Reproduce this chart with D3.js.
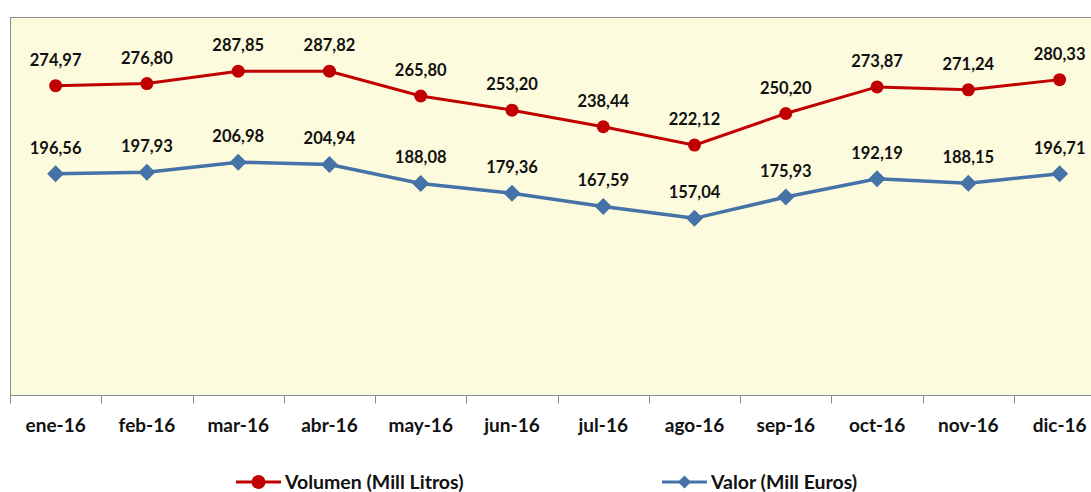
<!DOCTYPE html>
<html><head><meta charset="utf-8">
<script src="https://cdn.jsdelivr.net/npm/d3@7"></script>
<style>
html,body{margin:0;padding:0;background:#fff;}
svg{display:block;font-family:Lato,"Open Sans",sans-serif;}
</style></head>
<body>
<script>
const categories = ["ene-16","feb-16","mar-16","abr-16","may-16","jun-16","jul-16","ago-16","sep-16","oct-16","nov-16","dic-16"];
const volumen = [274.97,276.80,287.85,287.82,265.80,253.20,238.44,222.12,250.20,273.87,271.24,280.33];
const valor = [196.56,197.93,206.98,204.94,188.08,179.36,167.59,157.04,175.93,192.19,188.15,196.71];
const seriesNames = ["Volumen (Mill Litros)","Valor (Mill Euros)"];
const yDomain = [0, 336];

(function(){
const W = 1091, H = 492;
const mLeft = 10, mTop = 17, mBottom = 395, mRight = 10 + 12*91.27;
const svg = d3.select("body").append("svg").attr("width", W).attr("height", H);

const x = d3.scaleBand().domain(categories).range([mLeft, mRight]).padding(0);
const y = d3.scaleLinear().domain(yDomain).range([mBottom, mTop]);
const cx = d => x(d) + x.bandwidth()/2;

svg.append("rect").attr("x", mLeft + 0.5).attr("y", mTop + 0.5).attr("width", mRight-mLeft).attr("height", mBottom-mTop)
  .attr("fill", "#FDFBDD").attr("stroke", "#8c8c8c").attr("stroke-width", 1);

// x axis
const ax = svg.append("g").attr("transform", `translate(0,${mBottom + 0.5})`);
ax.append("line").attr("x1", mLeft).attr("x2", mRight).attr("stroke", "#8c8c8c");
const tickPos = categories.map(c => x(c));
ax.selectAll("line.t").data(tickPos).join("line").attr("class","t")
  .attr("x1", d => Math.round(d)+0.5).attr("x2", d => Math.round(d)+0.5).attr("y1", 0).attr("y2", 8).attr("stroke", "#8c8c8c");
ax.selectAll("text").data(categories).join("text")
  .attr("x", d => cx(d)).attr("y", 36).attr("text-anchor","middle")
  .attr("font-weight","bold").attr("font-size", 19).attr("fill","#111").text(d => d);

const series = [
  {name: seriesNames[0], values: volumen, color: "#C00000", marker: "circle"},
  {name: seriesNames[1], values: valor, color: "#4572A7", marker: "diamond"}
];

const line = d3.line().x((d,i) => cx(categories[i])).y(d => y(d));
const diamond = (s) => `M0,${-s}L${s},0L0,${s}L${-s},0Z`;

series.forEach(s => {
  svg.append("path").attr("d", line(s.values)).attr("fill","none")
    .attr("stroke", s.color).attr("stroke-width", s.marker==="circle"?3:3.5);
  const g = svg.append("g");
  s.values.forEach((v,i) => {
    const px = cx(categories[i]), py = y(v);
    if (s.marker === "circle") {
      g.append("circle").attr("cx", px).attr("cy", py).attr("r", 6.5).attr("fill", s.color);
    } else {
      g.append("path").attr("d", diamond(8.5)).attr("transform", `translate(${px},${py})`).attr("fill", s.color);
    }
    svg.append("text").attr("x", px).attr("y", py - 20).attr("text-anchor","middle")
      .attr("font-weight","bold").attr("font-size", 16.5).attr("fill","#111")
      .text(d3.format(".2f")(v).replace(".", ","));
  });
});

// legend
const leg = [
  {s: series[0], x1: 236, x2: 281, tx: 285},
  {s: series[1], x1: 662, x2: 707, tx: 711}
];
const ly = 482;
leg.forEach(l => {
  svg.append("line").attr("x1", l.x1).attr("x2", l.x2).attr("y1", ly).attr("y2", ly)
    .attr("stroke", l.s.color).attr("stroke-width", 3);
  const mx = (l.x1 + l.x2)/2;
  if (l.s.marker === "circle") svg.append("circle").attr("cx", mx).attr("cy", ly).attr("r", 7).attr("fill", l.s.color);
  else svg.append("path").attr("d", diamond(6.5)).attr("transform", `translate(${mx},${ly})`).attr("fill", l.s.color);
  svg.append("text").attr("x", l.tx).attr("y", ly + 7).attr("font-weight","bold")
    .attr("font-size", 19.5).attr("fill","#111").text(l.s.name);
});
})();
</script>
</body></html>
